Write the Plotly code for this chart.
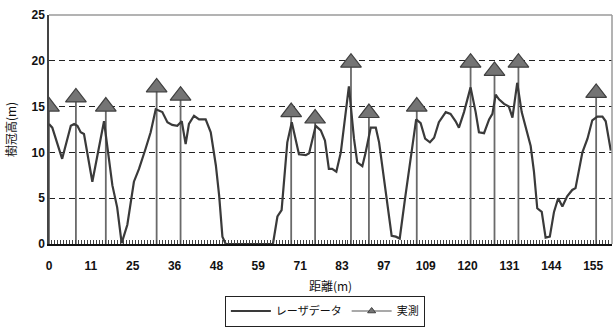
import plotly.graph_objects as go

# Category index positions (one category ≈ one measurement position) and labels
tick_index = [0, 14, 28, 42, 56, 70, 84, 98, 112, 126, 140, 154, 168, 182]
tick_labels = ["0", "11", "25", "36", "48", "59", "71", "83", "97", "109", "120", "131", "144", "155"]

# Laser-derived canopy height (レーザデータ)
laser_x = [0, 1.1, 4.4, 7.3, 8.4, 9.5, 10.6, 11.7, 14.5, 18.4, 21.2, 22.8, 24.3, 26.2, 28.4,
           30.1, 32.3, 34.0, 35.7, 37.9, 39.6, 41.2, 42.9, 44.4, 45.7, 46.8, 48.5, 50.2, 52.4,
           54.1, 55.8, 56.9, 58.0, 59.1, 74.9, 76.4, 77.8, 78.9, 79.7, 81.2, 83.6, 85.9, 87.0,
           89.2, 90.9, 92.3, 93.6, 94.7, 96.1, 97.6, 98.7, 100.3, 102.0, 103.1, 104.8, 105.9,
           107.6, 109.3, 110.4, 112.0, 113.5, 114.6, 116.0, 117.3, 119.1, 121.3, 122.8, 124.3,
           125.8, 127.4, 128.8, 130.4, 132.7, 134.3, 136.0, 137.1, 138.8, 141.0, 142.7, 143.8,
           145.5, 147.2, 148.3, 149.4, 150.5, 152.2, 153.8, 155.0, 156.6, 158.1, 159.4, 161.1,
           162.2, 163.3, 164.8, 166.1, 167.5, 168.9, 170.3, 171.7, 173.3, 175.0, 176.1, 178.4,
           180.1, 181.7, 183.4, 185.1, 186.2, 187.9]
laser_y = [13.1, 12.7, 9.3, 12.9, 13.1, 12.9, 12.2, 12.0, 6.8, 13.4, 6.4, 4.0, 0.1, 2.1, 6.8,
           8.2, 10.4, 12.2, 14.7, 14.4, 13.3, 13.0, 12.9, 13.4, 10.9, 13.1, 14.0, 13.6, 13.6,
           12.2, 8.6, 5.3, 0.8, 0.0, 0.0, 3.0, 3.7, 7.9, 11.1, 13.3, 9.8, 9.7, 9.9,
           12.9, 12.4, 11.3, 8.2, 8.2, 7.9, 10.0, 12.9, 17.2, 11.5, 8.9, 8.5, 10.0,
           12.7, 12.7, 11.1, 7.1, 3.2, 0.9, 0.8, 0.6, 5.0, 10.0, 13.6, 13.2,
           11.5, 11.1, 11.6, 13.3, 14.4, 14.2, 13.4, 12.7, 14.4, 17.1, 14.4, 12.2,
           12.1, 13.6, 14.2, 16.3, 15.8, 15.3, 15.0, 13.8, 17.6, 14.4, 12.9, 10.7,
           7.9, 3.9, 3.5, 0.7, 0.8, 3.5, 5.0, 4.1, 5.2, 5.9, 6.1, 10.0,
           11.5, 13.5, 13.9, 13.9, 13.4, 10.2]

# Field-measured heights (実測)
meas_x = [0, 9, 19, 36, 44, 81, 89, 101, 107, 123, 141, 149, 157, 183]
meas_y = [15.0, 16.0, 15.0, 17.1, 16.2, 14.4, 13.7, 19.8, 14.3, 15.0, 19.8, 18.9, 19.8, 16.5]

JP = "Noto Sans CJK JP"
NUM = "Liberation Sans"
X_RANGE = [0, 188.3]

fig = go.Figure()

# vertical drop lines for measured values
stem_x, stem_y = [], []
for xv, yv in zip(meas_x, meas_y):
    stem_x += [xv, xv, None]
    stem_y += [0, yv, None]
fig.add_trace(go.Scatter(x=stem_x, y=stem_y, mode="lines",
                         line=dict(color="#6a6a6a", width=1.8),
                         showlegend=False, hoverinfo="skip"))

fig.add_trace(go.Scatter(x=laser_x, y=laser_y, mode="lines", name="レーザデータ",
                         line=dict(color="#3a3a3a", width=2.2)))

fig.add_trace(go.Scatter(x=meas_x, y=meas_y, mode="markers", showlegend=False,
                         marker=dict(symbol="triangle-up", size=18, color="#747474",
                                     line=dict(color="#404040", width=1.2))))

# legend entry for measured series (line + triangle)
fig.add_trace(go.Scatter(x=[None], y=[None], mode="lines+markers", name="実測",
                         line=dict(color="#555555", width=1.2),
                         marker=dict(symbol="triangle-up", size=7, color="#747474",
                                     line=dict(color="#404040", width=1))))

# invisible trace on overlay axis carrying per-category tick marks
fig.add_trace(go.Scatter(x=[None], y=[None], xaxis="x2", showlegend=False, hoverinfo="skip"))

fig.update_layout(
    width=615, height=330,
    margin=dict(l=49, r=3, t=15, b=84),
    paper_bgcolor="white", plot_bgcolor="white",
    font=dict(family=NUM, size=12, color="#222"),
    showlegend=True,
    legend=dict(orientation="h", x=0.49, xanchor="center", y=-0.225, yanchor="top",
                bordercolor="#222", borderwidth=1, bgcolor="white",
                font=dict(family=JP, size=11, color="#111"),
                itemwidth=40, tracegroupgap=0),
    xaxis=dict(range=X_RANGE, tickmode="array", tickvals=tick_index, ticktext=tick_labels,
               showgrid=False, zeroline=False, showline=True, linecolor="#111", linewidth=1.5,
               ticks="", automargin=False, ticklabelstandoff=10,
               tickfont=dict(family=NUM, size=12, color="#111", weight="bold"),
               title=dict(text="距離(m)", font=dict(family=JP, size=12, color="#111"), standoff=10)),
    xaxis2=dict(range=X_RANGE, overlaying="x", side="bottom", anchor="y",
                tickmode="linear", tick0=0, dtick=1, ticks="inside", ticklen=4,
                tickcolor="#444", tickwidth=1, showticklabels=False,
                showgrid=False, zeroline=False, showline=False, automargin=False),
    yaxis=dict(range=[0, 25], tickmode="linear", tick0=0, dtick=5,
               showgrid=True, gridcolor="#222", griddash="6px,4px", gridwidth=1,
               zeroline=False, showline=True, linecolor="#444", linewidth=1.5,
               ticks="", automargin=False,
               tickfont=dict(family=NUM, size=12, color="#111", weight="bold"),
               title=dict(text="樹冠高(m)", font=dict(family=JP, size=12, color="#111"), standoff=12)),
    shapes=[
        dict(type="line", xref="paper", yref="paper", x0=0, x1=1, y0=1, y1=1,
             line=dict(color="#9a9a9a", width=1.5), layer="above"),
        dict(type="line", xref="paper", yref="paper", x0=1, x1=1, y0=0, y1=1,
             line=dict(color="#9a9a9a", width=1.5), layer="above"),
    ],
)

fig.write_html("out.html", config={"displayModeBar": False},
               post_script="document.body.style.margin='0';")
